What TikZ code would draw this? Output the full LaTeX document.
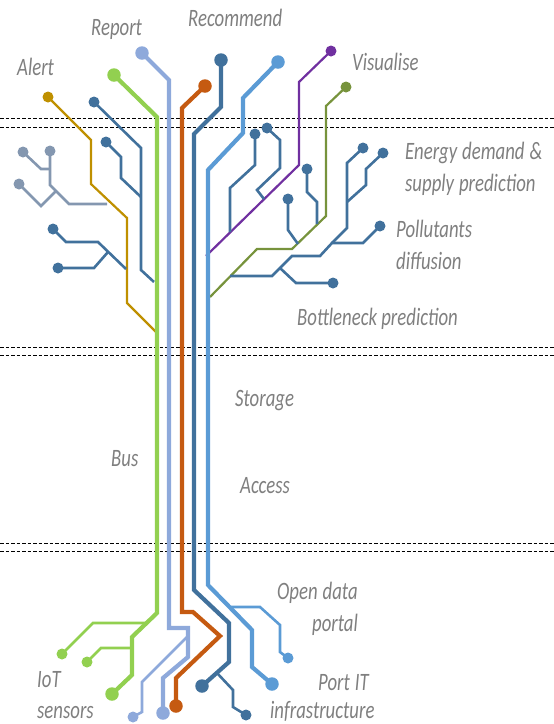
\documentclass[tikz,border=0pt]{standalone}
\usepackage{fontspec}
\newfontfamily\lblfont[FakeStretch=0.75]{Carlito}
\definecolor{cgreen}{HTML}{92D050}
\definecolor{cperi}{HTML}{8EA9DB}
\definecolor{corange}{HTML}{C55A11}
\definecolor{cdark}{HTML}{41719C}
\definecolor{csky}{HTML}{5B9BD5}
\definecolor{cpurple}{HTML}{7030A0}
\definecolor{colive}{HTML}{77933C}
\definecolor{cgold}{HTML}{BF9000}
\definecolor{cgrey}{HTML}{8497B0}
\definecolor{ctext}{HTML}{7F7F7F}
\newcommand{\wsp}{\hspace{5pt}}
\tikzset{
  trunk/.style={line width=4.2pt, line join=miter},
  twig/.style={line width=2.6pt, line join=miter},
  fine/.style={line width=2.2pt, line join=miter},
  dot/.style={circle, fill=#1, draw=none, inner sep=0pt, minimum size=11pt},
  bigdot/.style={dot=#1, minimum size=13.5pt},
  lbl/.style={font=\lblfont\itshape\fontsize{25}{25}\selectfont, text=ctext, anchor=base west, inner sep=0pt},
  sepline/.style={line width=0.9pt, dash pattern=on 3.5pt off 2pt},
}
\begin{document}
\begin{tikzpicture}[x=1pt,y=-1pt]
\useasboundingbox (0,0) rectangle (554,724);
% separators
\foreach \yy in {118,127,347,355,543,551} \draw[sepline] (0,\yy) -- (554,\yy);

% ---- left cluster ----
\node[dot=cgold] (al) at (48,97) {};
\draw[fine,cgold] (al.center) -- (91,140) -- (91,184) -- (127,218) -- (127,303) -- (156,332);
\node[dot=cdark] (l1) at (94,102) {};
\draw[twig,cdark] (l1.center) -- (141,148) -- (141,270) -- (154,282);
\node[dot=cdark] (l2) at (106,142) {};
\draw[twig,cdark] (l2.center) -- (121,157) -- (121,178) -- (141,197);
\node[dot=cdark] (l3) at (53,229) {};
\draw[twig,cdark] (l3.center) -- (66,242) -- (98,242) -- (126,269);
\node[dot=cdark] (l4) at (58,268) {};
\draw[twig,cdark] (l4.center) -- (94,268) -- (108,252);
\node[dot=cgrey] (g1) at (23,152) {};
\draw[twig,cgrey] (g1.center) -- (41,169) -- (50,169);
\node[dot=cgrey] (g2) at (50,151) {};
\draw[twig,cgrey] (g2.center) -- (50,185) -- (69,204) -- (107,204);
\node[dot=cgrey] (g3) at (19,184) {};
\draw[twig,cgrey] (g3.center) -- (41,206) -- (56,191);

% ---- right cluster ----
\node[dot=cpurple] (vi) at (331,51) {};
\draw[fine,cpurple] (vi.center) -- (299,82) -- (299,165) -- (206,256);
\node[dot=colive] (ol) at (346,87) {};
\draw[fine,colive] (ol.center) -- (326,106) -- (326,216) -- (292,249) -- (257,249) -- (210,297);
\node[dot=cdark] (r1) at (255,134) {};
\draw[twig,cdark] (r1.center) -- (255,165) -- (230,188) -- (230,232);
\node[dot=cdark] (r2) at (267,128) {};
\draw[twig,cdark] (r2.center) -- (280,140) -- (280,168) -- (257,190) -- (264,199);
\node[dot=cdark] (r3) at (288,199) {};
\draw[twig,cdark] (r3.center) -- (288,230) -- (298,244);
\node[dot=cdark] (r4) at (307,169) {};
\draw[twig,cdark] (r4.center) -- (307,192) -- (317,202) -- (317,224);
\node[dot=cdark] (r5) at (380,226) {};
\draw[twig,cdark] (230,276) -- (272,276) -- (292,256) -- (320,256) -- (332,243) -- (363,243) -- (r5.center);
\node[dot=cdark] (r6) at (363,148) {};
\draw[twig,cdark] (332,243) -- (347,228) -- (347,163) -- (r6.center);
\node[dot=cdark] (r7) at (383,153) {};
\draw[twig,cdark] (347,202) -- (366,185) -- (366,169) -- (r7.center);
\node[dot=cdark] (r8) at (333,283) {};
\draw[twig,cdark] (280,268) -- (296,283) -- (r8.center);

% ---- trunks ----
\node[bigdot=cgreen] (tg) at (114,75) {};
\node[bigdot=cgreen] (bg) at (112,694) {};
\draw[trunk,cgreen] (tg.center) -- (157,117) -- (157,613) -- (132,637) -- (132,675) -- (bg.center);
\node[dot=cgreen] (bg2) at (62,654) {};
\node[dot=cgreen] (bg3) at (87,662) {};
\draw[twig,cgreen] (146,623) -- (93,623) -- (bg2.center);
\draw[twig,cgreen] (132,648) -- (101,648) -- (bg3.center);

\node[bigdot=cperi] (tp) at (142,53) {};
\node[bigdot=cperi] (bp) at (163,713) {};
\draw[trunk,cperi] (tp.center) -- (169,80) -- (169,628) -- (188,628) -- (188,657) -- (163,678) -- (bp.center);
\node[dot=cperi] (bp2) at (133,717) {};
\draw[twig,cperi] (188,636) -- (142,682) -- (142,712) -- (bp2.center);

\node[bigdot=corange] (to) at (205,86) {};
\node[bigdot=corange] (bo) at (176,706) {};
\draw[trunk,corange] (to.center) -- (182,108) -- (182,612) -- (193,612) -- (220,636) -- (176,678) -- (bo.center);

\node[bigdot=cdark] (td) at (221,60) {};
\node[bigdot=cdark] (bd) at (202,686) {};
\draw[trunk,cdark] (td.center) -- (221,107) -- (194,134) -- (194,590) -- (229,623) -- (229,662) -- (bd.center);
\node[dot=cdark] (bd2) at (246,715) {};
\draw[twig,cdark] (217,673) -- (233,690) -- (233,707) -- (bd2.center);

\node[bigdot=csky] (ts) at (278,62) {};
\node[bigdot=csky] (bs) at (272,684) {};
\draw[trunk,csky] (ts.center) -- (243,98) -- (243,133) -- (208,170) -- (208,585) -- (252,630) -- (252,667) -- (bs.center);
\node[dot=csky] (bs2) at (288,658) {};
\draw[twig,csky] (231,607) -- (260,607) -- (280,625) -- (280,652) -- (bs2.center);

% ---- labels ----
\node[lbl] (tAlert) at (17,75) {Alert};
\node[lbl] (tReport) at (91,35) {Report};
\node[lbl] (tRec) at (188,26) {Recommend};
\node[lbl] (tVis) at (352,70) {Visualise};
\node[lbl] (tEn1) at (405,159) {Energy\wsp demand\wsp\&};
\node[lbl] (tEn2) at (405,191) {supply\wsp prediction};
\node[lbl] (tPo1) at (396,237) {Pollutants};
\node[lbl] (tPo2) at (396,269) {diffusion};
\node[lbl] (tBo) at (297,325) {Bottleneck prediction};
\node[lbl] (tSt) at (235,406) {Storage};
\node[lbl] (tAc) at (240,493) {Access};
\node[lbl] (tBus) at (111,466) {Bus};
\node[lbl] (tOp1) at (277,599) {Open\wsp data};
\node[lbl] (tOp2) at (312,631) {portal};
\node[lbl] (tPi1) at (318,690) {Port\wsp IT};
\node[lbl] (tPi2) at (270,718) {infrastructure};
\node[lbl] (tIo1) at (37,687) {IoT};
\node[lbl] (tIo2) at (37,718) {sensors};
\end{tikzpicture}
\end{document}
